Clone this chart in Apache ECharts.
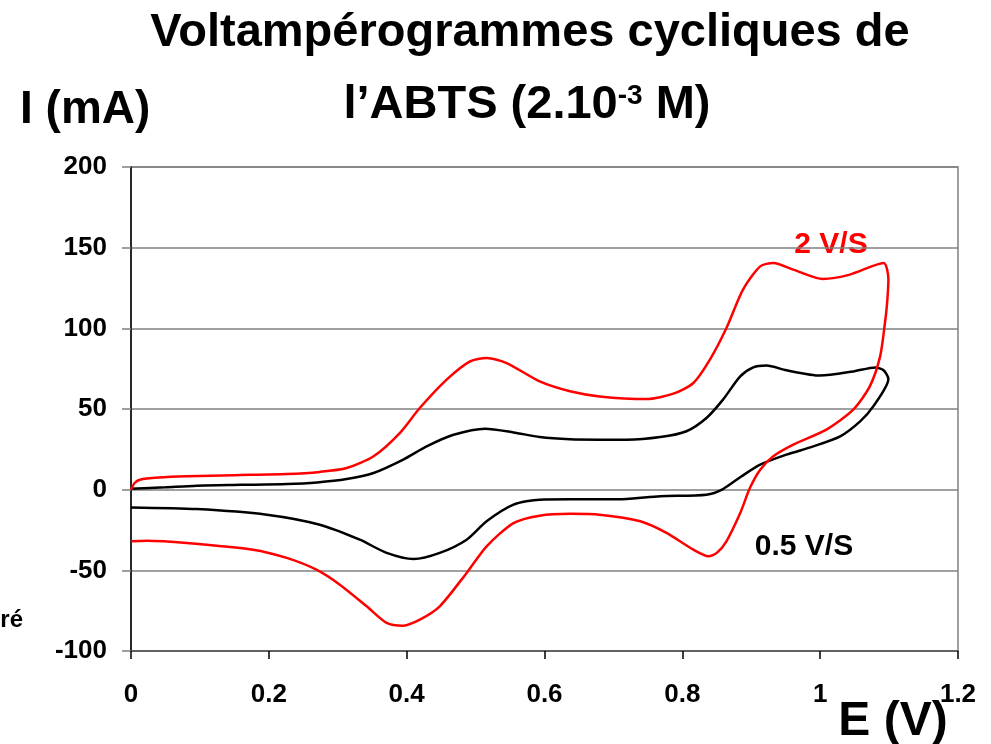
<!DOCTYPE html>
<html>
<head>
<meta charset="utf-8">
<script src="https://cdn.jsdelivr.net/npm/echarts@6/dist/echarts.min.js"></script>
<style>
html,body{margin:0;padding:0;background:#fff;}
#chart{width:991px;height:744px;}
</style>
</head>
<body>
<div id="chart"></div>
<script>
// Potential E (V) and current I (mA) for 0.5 V/S scan (black)
var scan05E = [0,0.05,0.095,0.16,0.226,0.27,0.313,0.352,0.395,0.429,0.468,0.514,0.555,0.593,0.637,0.68,0.719,0.768,0.806,0.835,0.859,0.884,0.903,0.922,0.951,1.0,1.048,1.08,1.092,1.099,1.077,1.058,1.029,0.99,0.951,0.913,0.886,0.859,0.835,0.768,0.719,0.68,0.637,0.593,0.555,0.516,0.487,0.448,0.41,0.371,0.332,0.274,0.197,0.095,0];
var scan05I = [0.5,1.5,2.5,3,3.5,4.5,6.6,10.3,18.6,26.8,34,37.8,35.5,32.6,31.2,31,31,32.6,36.2,44.4,55.8,70.2,75.8,76.9,74,70.7,73.3,75.8,74,68.6,51.6,42.3,33,26.8,21.7,15.5,8.3,0.4,-3.1,-4.1,-5.8,-6,-6,-6.2,-9.3,-19.6,-31,-39.2,-43,-39.2,-31,-21.7,-15.5,-12,-11];
// 2 V/S scan (red)
var scan2E = [0,0.005,0.013,0.04,0.081,0.15,0.226,0.274,0.313,0.352,0.39,0.419,0.458,0.492,0.516,0.545,0.593,0.637,0.68,0.748,0.787,0.816,0.84,0.864,0.888,0.913,0.932,0.961,1.004,1.043,1.092,1.099,1.097,1.094,1.087,1.072,1.048,1.009,0.961,0.932,0.913,0.898,0.884,0.864,0.85,0.838,0.816,0.777,0.739,0.68,0.637,0.593,0.555,0.516,0.487,0.448,0.419,0.395,0.371,0.342,0.303,0.269,0.226,0.177,0.081,0.023,0];
var scan2I = [0,4,6.2,7.5,8.3,9,9.7,11,13.4,20.7,35.1,50.6,68.2,79.5,81.6,78.5,67.1,61,57.8,56.2,59.5,66.1,80.6,100.2,124,138.4,140.5,136.4,130.6,133.3,140.5,130.2,115,103.3,82.6,64,49.6,37.2,27.9,20.7,12.4,1,-14.5,-32,-39.2,-41.3,-37.2,-26.8,-19.6,-15.5,-15,-16.1,-20.7,-35.1,-51.6,-72.3,-80.6,-84.3,-82.6,-72.3,-58.9,-49.6,-42.3,-37.2,-33,-31.6,-32];
var xTicks = [0,0.2,0.4,0.6,0.8,1,1.2];
var yTicks = [-100,-50,0,50,100,150,200];
var seriesNames = ['0.5 V/S','2 V/S'];

function zip(a,b){ var r=[]; for(var i=0;i<a.length;i++) r.push([a[i],b[i]]); return r; }

var FONT = "'Liberation Sans', Arial, sans-serif";
var chart = echarts.init(document.getElementById('chart'));
chart.setOption({
  animation:false,
  backgroundColor:'#fff',
  grid:{left:131,right:33,top:167,bottom:93,show:true,borderColor:'#808080',borderWidth:1.5,containLabel:false},
  xAxis:{
    type:'value',min:xTicks[0],max:xTicks[xTicks.length-1],interval:0.2,
    axisLine:{show:true,onZero:false,lineStyle:{color:'#555',width:1.5}},
    axisTick:{show:true,inside:false,length:8,lineStyle:{color:'#000',width:1.5}},
    axisLabel:{margin:31,fontFamily:FONT,fontWeight:'bold',fontSize:26,color:'#000'},
    splitLine:{show:false}
  },
  yAxis:{
    type:'value',min:yTicks[0],max:yTicks[yTicks.length-1],interval:50,
    axisLine:{show:true,onZero:false,lineStyle:{color:'#000',width:1.5}},
    axisTick:{show:true,inside:false,length:9,lineStyle:{color:'#808080',width:1.5}},
    axisLabel:{margin:24,fontFamily:FONT,fontWeight:'bold',fontSize:26,color:'#000'},
    splitLine:{show:true,lineStyle:{color:'#808080',width:1.5}}
  },
  series:[
    {name:seriesNames[0],type:'line',data:zip(scan05E,scan05I),showSymbol:false,smooth:0.25,
     lineStyle:{color:'#000',width:2.5},z:3},
    {name:seriesNames[1],type:'line',data:zip(scan2E,scan2I),showSymbol:false,smooth:0.25,
     lineStyle:{color:'#ff0000',width:2.5},z:4}
  ],
  graphic:[
    {type:'text',style:{x:530,y:10,text:'Voltampérogrammes cycliques de',font:'bold 47px '+FONT,fill:'#000',textAlign:'center',textVerticalAlign:'top'}},
    {type:'text',style:{x:527,y:82,text:'{a|l’ABTS (2.10}{s|-3}{a| M)}',textAlign:'center',textVerticalAlign:'top',
      rich:{a:{fontFamily:FONT,fontWeight:'bold',fontSize:47,color:'#000',verticalAlign:'bottom'},
            s:{fontFamily:FONT,fontWeight:'bold',fontSize:28,color:'#000',verticalAlign:'top'}}}},
    {type:'text',style:{x:20,y:110,text:'I (mA)',font:'bold 46px '+FONT,fill:'#000',textAlign:'left',textVerticalAlign:'middle'}},
    {type:'text',style:{x:893,y:722,text:'E (V)',font:'bold 48px '+FONT,fill:'#000',textAlign:'center',textVerticalAlign:'middle'}},
    {type:'text',style:{x:831,y:245,text:'2 V/S',font:'bold 30px '+FONT,fill:'#ff0000',textAlign:'center',textVerticalAlign:'middle'}},
    {type:'text',style:{x:804,y:547,text:'0.5 V/S',font:'bold 30px '+FONT,fill:'#000',textAlign:'center',textVerticalAlign:'middle'}},
    {type:'text',style:{x:23,y:620,text:'ré',font:'bold 24px '+FONT,fill:'#000',textAlign:'right',textVerticalAlign:'middle'}}
  ]
});
</script>
</body>
</html>
